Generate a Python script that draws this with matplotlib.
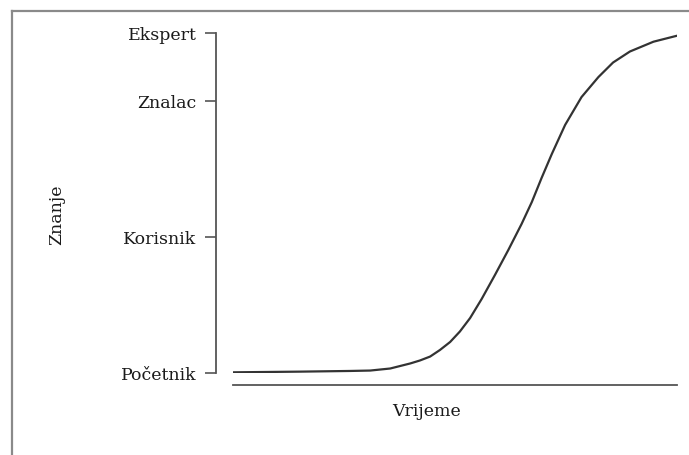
import matplotlib
matplotlib.use("Agg")
import matplotlib.pyplot as plt
from matplotlib.lines import Line2D

# Data
time = [0.00, 1.51, 2.64, 3.09, 3.54, 3.99, 4.21, 4.44, 4.66, 4.89, 5.11,
        5.34, 5.60, 5.90, 6.20, 6.50, 6.73, 6.95, 7.18, 7.48, 7.85, 8.23,
        8.56, 8.94, 9.47, 10.0]
knowledge = [0.005, 0.010, 0.015, 0.018, 0.033, 0.070, 0.092, 0.121, 0.169,
             0.228, 0.305, 0.404, 0.544, 0.721, 0.904, 1.096, 1.257, 1.434,
             1.610, 1.824, 2.029, 2.176, 2.283, 2.364, 2.436, 2.480]
level_values = [0, 1, 2, 2.5]
level_labels = ["Početnik", "Korisnik", "Znalac", "Ekspert"]
x_label = "Vrijeme"
y_label = "Znanje"

plt.rcParams['font.family'] = ['DejaVu Serif', 'Liberation Serif']

W, H = 689, 455
fig = plt.figure(figsize=(W / 100, H / 100), dpi=100)
ax = fig.add_axes([233 / W, (H - 373) / H, 444 / W, 340 / H])

ax.plot(time, knowledge, color="#333333", lw=1.6, solid_capstyle="round",
        solid_joinstyle="round")
ax.set_xlim(0, 10)
ax.set_ylim(0, 2.5)

for s in ["top", "right"]:
    ax.spines[s].set_visible(False)
ax.spines["left"].set_position(("outward", 17 * 0.72))
ax.spines["bottom"].set_position(("outward", 12 * 0.72))
ax.spines["left"].set_bounds(0, 2.5)
for s in ["left", "bottom"]:
    ax.spines[s].set_color("#555555")
    ax.spines[s].set_linewidth(1.3)

ax.set_xticks([])
ax.set_yticks(level_values)
ax.set_yticklabels(level_labels, fontsize=12.5, color="#1a1a1a")
ax.tick_params(axis="y", direction="out", length=8, width=1.2, color="#555555", pad=6)

fig.text(57 / W, 1 - 215 / H, y_label, rotation=90, ha="center", va="center",
         fontsize=12.5, color="#1a1a1a")
fig.text(427 / W, 1 - 411 / H, x_label, ha="center", va="center",
         fontsize=12.5, color="#1a1a1a")

# frame (top and left borders)
fig.add_artist(Line2D([12 / W, 12 / W], [0, 1 - 11 / H], transform=fig.transFigure,
                      color="#8a8a8a", lw=1.6))
fig.add_artist(Line2D([12 / W, 1], [1 - 11 / H, 1 - 11 / H], transform=fig.transFigure,
                      color="#8a8a8a", lw=1.6))

fig.savefig("out.png", dpi=100)
